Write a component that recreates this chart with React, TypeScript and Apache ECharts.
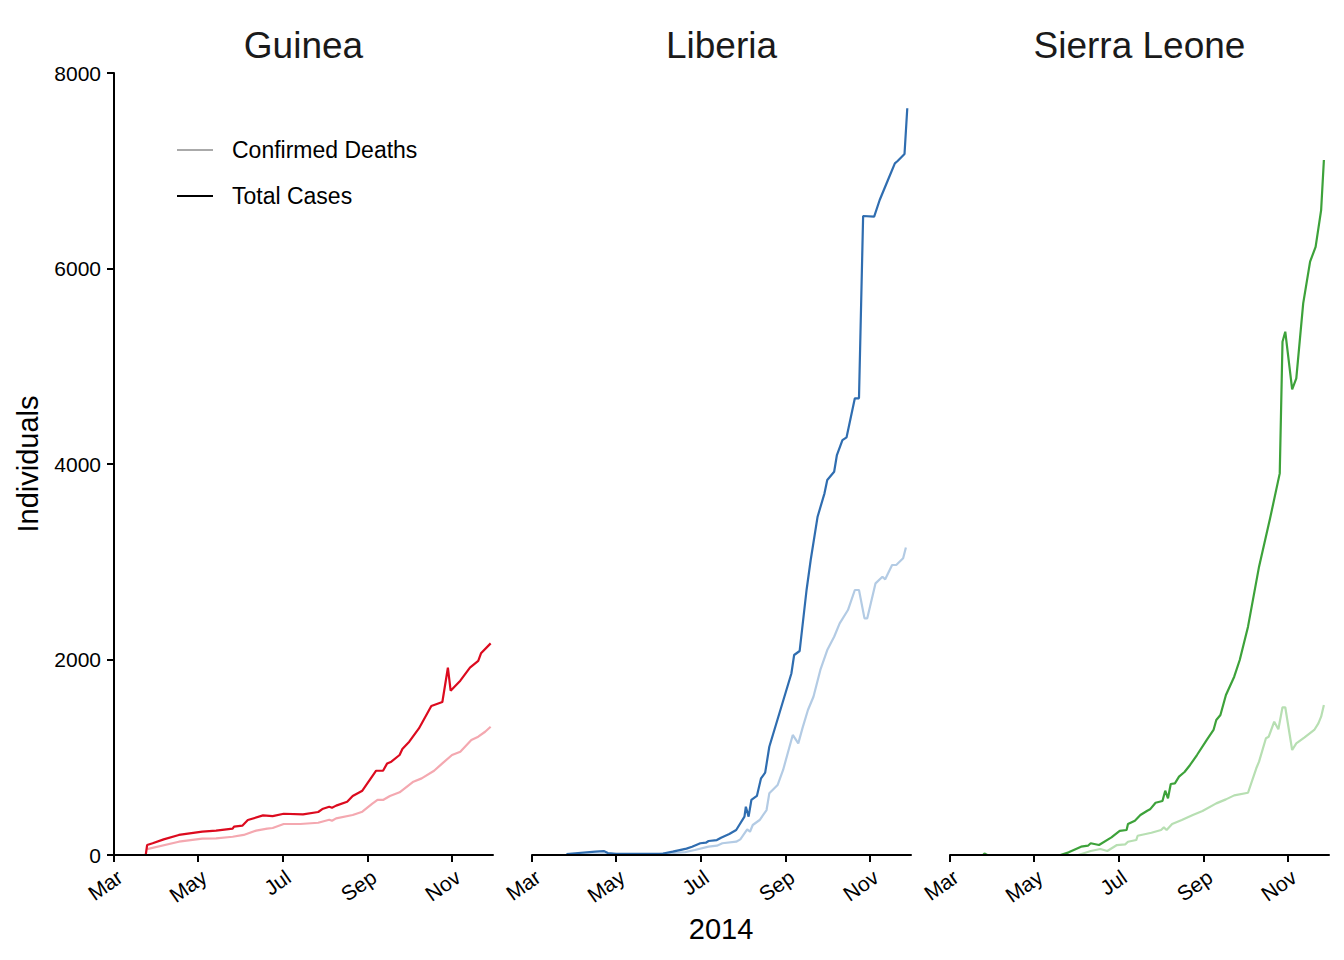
import React, { useEffect, useRef } from "react";
import * as echarts from "echarts";

const countries = ["Guinea", "Liberia", "Sierra Leone"];
const monthTickDates = ["2014-03-01", "2014-05-01", "2014-07-01", "2014-09-01", "2014-11-01"];
const monthTickLabels = ["Mar", "May", "Jul", "Sep", "Nov"];
const yTicks = [0, 2000, 4000, 6000, 8000];
const legendLabels = ["Confirmed Deaths", "Total Cases"];

const guineaCaseDates = ["2014-03-24","2014-03-25","2014-03-29","2014-04-06","2014-04-17","2014-05-04","2014-05-14","2014-05-26","2014-05-27","2014-06-02","2014-06-06","2014-06-17","2014-06-24","2014-07-02","2014-07-16","2014-07-27","2014-07-30","2014-08-04","2014-08-06","2014-08-09","2014-08-17","2014-08-21","2014-08-28","2014-09-07","2014-09-12","2014-09-15","2014-09-18","2014-09-24","2014-09-26","2014-10-01","2014-10-08","2014-10-17","2014-10-25","2014-10-29","2014-10-31","2014-11-07","2014-11-14","2014-11-20","2014-11-22","2014-11-29"];
const guineaCases = [0,102,120,160,205,240,249,270,290,300,358,405,398,422,415,440,470,494,484,505,545,604,658,862,862,937,955,1023,1084,1159,1295,1524,1565,1916,1681,1783,1916,1985,2063,2165];

const guineaDeathDates = ["2014-03-25","2014-04-17","2014-05-04","2014-05-14","2014-05-26","2014-06-03","2014-06-12","2014-06-20","2014-06-24","2014-07-02","2014-07-14","2014-07-27","2014-08-04","2014-08-06","2014-08-09","2014-08-21","2014-08-28","2014-09-04","2014-09-08","2014-09-12","2014-09-17","2014-09-24","2014-10-04","2014-10-10","2014-10-19","2014-10-25","2014-11-01","2014-11-07","2014-11-15","2014-11-20","2014-11-25","2014-11-29"];
const guineaDeaths = [60,136,167,171,187,205,249,270,276,317,317,330,361,350,375,409,443,522,563,563,604,641,750,784,862,937,1023,1057,1176,1210,1261,1312];

const liberiaCaseDates = ["2014-03-26","2014-04-16","2014-04-22","2014-04-25","2014-05-01","2014-06-04","2014-06-11","2014-06-21","2014-06-25","2014-07-01","2014-07-05","2014-07-07","2014-07-13","2014-07-16","2014-07-22","2014-07-27","2014-08-02","2014-08-03","2014-08-05","2014-08-07","2014-08-11","2014-08-14","2014-08-17","2014-08-20","2014-09-05","2014-09-07","2014-09-11","2014-09-16","2014-09-19","2014-09-24","2014-09-29","2014-10-01","2014-10-06","2014-10-08","2014-10-12","2014-10-15","2014-10-21","2014-10-24","2014-10-27","2014-11-04","2014-11-08","2014-11-14","2014-11-19","2014-11-21","2014-11-26","2014-11-28"];
const liberiaCases = [10,35,40,20,12,15,34,65,85,120,126,143,153,177,215,256,392,494,392,563,604,784,842,1107,1857,2046,2087,2711,3018,3461,3700,3836,3921,4092,4245,4273,4672,4672,6537,6530,6701,6905,7076,7100,7171,7639];

const liberiaDeathDates = ["2014-03-26","2014-06-01","2014-06-20","2014-06-27","2014-07-07","2014-07-13","2014-07-17","2014-07-27","2014-07-30","2014-08-04","2014-08-06","2014-08-08","2014-08-13","2014-08-18","2014-08-20","2014-08-26","2014-08-30","2014-09-06","2014-09-10","2014-09-13","2014-09-17","2014-09-21","2014-09-26","2014-10-01","2014-10-06","2014-10-10","2014-10-16","2014-10-21","2014-10-24","2014-10-28","2014-10-30","2014-11-05","2014-11-10","2014-11-12","2014-11-17","2014-11-20","2014-11-25","2014-11-27"];
const liberiaDeaths = [5,10,30,51,85,95,120,136,160,262,238,307,358,460,631,716,870,1228,1142,1295,1483,1619,1893,2097,2233,2370,2506,2711,2711,2421,2421,2779,2847,2820,2967,2967,3035,3146];

const sierraCaseDates = ["2014-03-25","2014-03-26","2014-03-28","2014-05-20","2014-05-26","2014-06-04","2014-06-09","2014-06-11","2014-06-17","2014-06-26","2014-07-02","2014-07-07","2014-07-08","2014-07-13","2014-07-17","2014-07-22","2014-07-24","2014-07-28","2014-08-02","2014-08-04","2014-08-06","2014-08-08","2014-08-11","2014-08-14","2014-08-18","2014-08-22","2014-08-27","2014-09-03","2014-09-08","2014-09-10","2014-09-13","2014-09-17","2014-09-23","2014-09-27","2014-10-03","2014-10-11","2014-10-19","2014-10-26","2014-10-28","2014-10-30","2014-11-04","2014-11-07","2014-11-12","2014-11-17","2014-11-21","2014-11-25","2014-11-27"];
const sierraCases = [0,15,0,0,27,85,95,120,102,180,246,256,317,351,409,453,467,535,552,658,580,726,733,801,849,921,1023,1176,1279,1381,1432,1637,1824,1995,2336,2950,3444,3904,5251,5353,4763,4876,5643,6070,6222,6598,7110];

const sierraDeathDates = ["2014-06-02","2014-06-11","2014-06-18","2014-06-23","2014-06-30","2014-07-06","2014-07-08","2014-07-14","2014-07-15","2014-07-25","2014-08-01","2014-08-03","2014-08-05","2014-08-09","2014-08-16","2014-08-24","2014-08-31","2014-09-10","2014-09-17","2014-09-23","2014-10-03","2014-10-09","2014-10-11","2014-10-16","2014-10-18","2014-10-22","2014-10-25","2014-10-28","2014-10-30","2014-11-04","2014-11-07","2014-11-13","2014-11-20","2014-11-23","2014-11-25","2014-11-27"];
const sierraDeaths = [0,41,61,41,102,109,136,153,197,228,256,283,256,317,358,409,450,528,569,610,637,887,955,1194,1210,1364,1286,1511,1511,1074,1142,1203,1279,1347,1415,1535];

const caseColors = ["#dc0a1e", "#2f6db0", "#3da23a"];
const deathColors = ["#f4a8b0", "#b3cbe4", "#b7dfb2"];

const ts = (d: string) => Date.UTC(+d.slice(0, 4), +d.slice(5, 7) - 1, +d.slice(8, 10));
const zip = (dates: string[], vals: number[]) => dates.map((d, i) => [ts(d), vals[i]]);

export default function App() {
  const ref = useRef<HTMLDivElement>(null);
  useEffect(() => {
    if (!ref.current) return;
    const chart = echarts.init(ref.current, null, { renderer: "svg" });
    const font = "'Liberation Sans', Arial, Helvetica, sans-serif";
    const tickTs = monthTickDates.map(ts);
    const labelOf = (v: number) => {
      const i = tickTs.findIndex((t) => Math.abs(t - v) < 3600000);
      return i >= 0 ? monthTickLabels[i] : "";
    };
    const xMin = ts("2014-03-01");
    const xMax = xMin + 274.7 * 86400000;
    const lefts = [114, 532, 950];
    const grids = lefts.map((l) => ({ left: l, top: 73, width: 379, height: 782 }));
    const xAxes = lefts.map((_, i) => ({
      type: "value",
      gridIndex: i,
      min: xMin,
      max: xMax,
      z: 10,
      splitLine: { show: false },
      axisLine: { show: true, lineStyle: { color: "#000", width: 2 } },
      axisTick: { show: true, inside: false, length: 7, lineStyle: { color: "#000", width: 2 }, customValues: tickTs },
      axisLabel: {
        customValues: tickTs,
        formatter: (v: number) => labelOf(v),
        rotate: 35,
        fontSize: 21,
        color: "#000",
        fontFamily: font,
        margin: 11,
        align: "right",
        verticalAlign: "top",
        hideOverlap: false,
        showMinLabel: true,
        showMaxLabel: true,
      },
    }));
    const yAxes = lefts.map((_, i) => ({
      type: "value",
      gridIndex: i,
      min: yTicks[0],
      max: yTicks[yTicks.length - 1],
      interval: yTicks[1] - yTicks[0],
      z: 10,
      splitLine: { show: false },
      axisLine: { show: i === 0, lineStyle: { color: "#000", width: 2 } },
      axisTick: { show: i === 0, inside: false, length: 7, lineStyle: { color: "#000", width: 2 } },
      axisLabel: {
        show: i === 0,
        fontSize: 21,
        color: "#000",
        fontFamily: font,
        margin: 13,
        formatter: (v: number) => String(v),
      },
    }));
    const caseData = [zip(guineaCaseDates, guineaCases), zip(liberiaCaseDates, liberiaCases), zip(sierraCaseDates, sierraCases)];
    const deathData = [zip(guineaDeathDates, guineaDeaths), zip(liberiaDeathDates, liberiaDeaths), zip(sierraDeathDates, sierraDeaths)];
    const series: any[] = [];
    countries.forEach((c, i) => {
      series.push({
        type: "line",
        name: c + " " + legendLabels[0],
        xAxisIndex: i,
        yAxisIndex: i,
        data: deathData[i],
        showSymbol: false,
        lineStyle: { color: deathColors[i], width: 2.2 },
        itemStyle: { color: deathColors[i] },
        z: 2,
      });
      series.push({
        type: "line",
        name: c + " " + legendLabels[1],
        xAxisIndex: i,
        yAxisIndex: i,
        data: caseData[i],
        showSymbol: false,
        lineStyle: { color: caseColors[i], width: 2.2 },
        itemStyle: { color: caseColors[i] },
        z: 3,
      });
    });
    const graphic: any[] = [];
    countries.forEach((c, i) => {
      graphic.push({
        type: "text",
        x: lefts[i] + 189.5,
        y: 45,
        style: { text: c, font: `37px ${font}`, fill: "#1a1a1a", align: "center", verticalAlign: "middle" },
      });
    });
    graphic.push({
      type: "text",
      x: 28,
      y: 464,
      rotation: Math.PI / 2,
      style: { text: "Individuals", font: `29px ${font}`, fill: "#000", align: "center", verticalAlign: "middle" },
    });
    graphic.push({
      type: "text",
      x: 721,
      y: 929,
      style: { text: "2014", font: `29px ${font}`, fill: "#000", align: "center", verticalAlign: "middle" },
    });
    const legendColors = ["#aaaaaa", "#000000"];
    legendLabels.forEach((t, i) => {
      const y = 150 + i * 46;
      graphic.push({ type: "line", shape: { x1: 177, y1: y, x2: 213, y2: y }, style: { stroke: legendColors[i], lineWidth: 2 } });
      graphic.push({
        type: "text",
        x: 232,
        y,
        style: { text: t, font: `23px ${font}`, fill: "#000", align: "left", verticalAlign: "middle" },
      });
    });
    chart.setOption({
      animation: false,
      backgroundColor: "#fff",
      grid: grids,
      xAxis: xAxes,
      yAxis: yAxes,
      series,
      graphic,
    });
    return () => chart.dispose();
  }, []);
  return <div ref={ref} style={{ width: 1344, height: 960, position: "absolute", left: 0, top: 0 }} />;
}
